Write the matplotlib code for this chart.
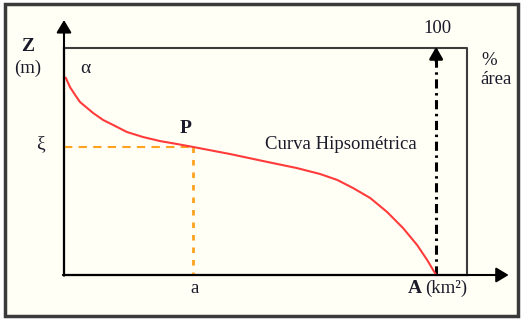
import matplotlib
matplotlib.use('Agg')
import matplotlib.pyplot as plt
from matplotlib.patches import Rectangle

# curva hipsometrica (x: % area, y: % altura)
area = [0, 0.5, 1.6, 3.0, 4.3, 6.2, 7.8, 10.5, 13.2, 16.9, 21.2, 25.8, 30.4, 34.7,
        44.6, 53.5, 62.6, 68.8, 73.4, 77.7, 82.3, 86.8, 91.1, 94.9, 97.6, 100]
altura = [87.2, 86.8, 82.8, 79.3, 76.2, 73.6, 71.4, 68.3, 66.1, 63.0, 60.8, 59.0, 57.7, 56.4,
          53.3, 50.2, 47.1, 44.5, 41.9, 38.3, 33.9, 27.8, 20.7, 13.2, 6.6, 0]
p_x, p_y = 34.7, 56.4

plt.rcParams['font.family'] = ['Liberation Serif', 'DejaVu Serif']

W, H = 521, 320
fig = plt.figure(figsize=(W / 100, H / 100), dpi=100)
fig.patch.set_facecolor('white')
fig.patches.append(Rectangle((5 / W, 4 / H), 513 / W, 312 / H, transform=fig.transFigure,
                             facecolor='#fffff5', edgecolor='#3a3a3a', lw=2.5, zorder=-5))

ax = fig.add_axes([64 / W, (H - 275) / H, (467 - 64) / W, (275 - 48) / H])
ax.set_zorder(1)
ax.set_xlim(0, 108.3)
ax.set_ylim(0, 100)
ax.patch.set_alpha(0)
for s in ax.spines.values():
    s.set_visible(False)
ax.set_xticks([])
ax.set_yticks([])

box = '#3c3c3c'
head = '-|>,head_length=0.75,head_width=0.45'
# caixa
ax.plot([0, 108.3, 108.3], [100, 100, 0], color=box, lw=1.5, clip_on=False)
# eixos com setas
ax.annotate('', xy=(0, 112.3), xytext=(0, -0.3), annotation_clip=False,
            arrowprops=dict(arrowstyle=head, color='black', lw=1.5, shrinkA=0, shrinkB=0))
ax.annotate('', xy=(119.5, 0), xytext=(-0.3, 0), annotation_clip=False,
            arrowprops=dict(arrowstyle=head, color='black', lw=1.5, shrinkA=0, shrinkB=0))
ax.plot([0, 0], [0, 100], color=box, lw=1.6, clip_on=False)
ax.plot([0, 108.3], [0, 0], color=box, lw=1.6, clip_on=False)

# linha 100%
ax.plot([100, 100], [0, 95], color='black', lw=2.2, ls=(0, (3, 1.5, 0.8, 1.5)), clip_on=False)
ax.annotate('', xy=(100, 100.5), xytext=(100, 94), annotation_clip=False,
            arrowprops=dict(arrowstyle='-|>,head_length=0.7,head_width=0.4', color='black', lw=2,
                            shrinkA=0, shrinkB=0))

# ponto P
ax.plot([0, p_x], [p_y, p_y], color='#ffa21f', lw=1.5, ls=(0, (4, 3)))
ax.plot([p_x, p_x], [p_y, 0], color='#ffa21f', lw=2, ls=(0, (2, 2.5)))

ax.plot(area, altura, color='#ff3b3b', lw=1.5, clip_on=False, solid_joinstyle='round')

tc = '#1a1a2a'
ax.text(-9.7, 100.5, 'Z', fontsize=14, fontweight='bold', ha='center', va='center', color=tc, clip_on=False)
ax.text(-9.8, 91, '(m)', fontsize=13.5, ha='center', va='center', color=tc, clip_on=False)
ax.text(5.7, 91, 'α', fontsize=14, ha='center', va='center', color=tc)
ax.text(-6.2, p_y + 1.5, 'ξ', fontsize=14, ha='center', va='center', color=tc, clip_on=False)
ax.text(32.8, 64.5, 'P', fontsize=14, fontweight='bold', ha='center', va='center', color=tc)
ax.text(74.5, 57.5, 'Curva Hipsométrica', fontsize=13.5, ha='center', va='center', color=tc)
ax.text(100.3, 108.5, '100', fontsize=13.5, ha='center', va='center', color=tc, clip_on=False)
ax.text(114.3, 94.5, '%', fontsize=13.5, ha='center', va='center', color=tc, clip_on=False)
ax.text(116, 86, 'área', fontsize=13.5, ha='center', va='center', color=tc, clip_on=False)
ax.text(p_x + 0.3, -5.8, 'a', fontsize=13.5, ha='center', va='center', color=tc, clip_on=False)
ax.text(94.4, -5.8, 'A', fontsize=14, fontweight='bold', ha='center', va='center', color=tc, clip_on=False)
ax.text(102.7, -5.8, '(km²)', fontsize=13.5, ha='center', va='center', color=tc, clip_on=False)

plt.savefig('out.png', dpi=100, facecolor='white')
